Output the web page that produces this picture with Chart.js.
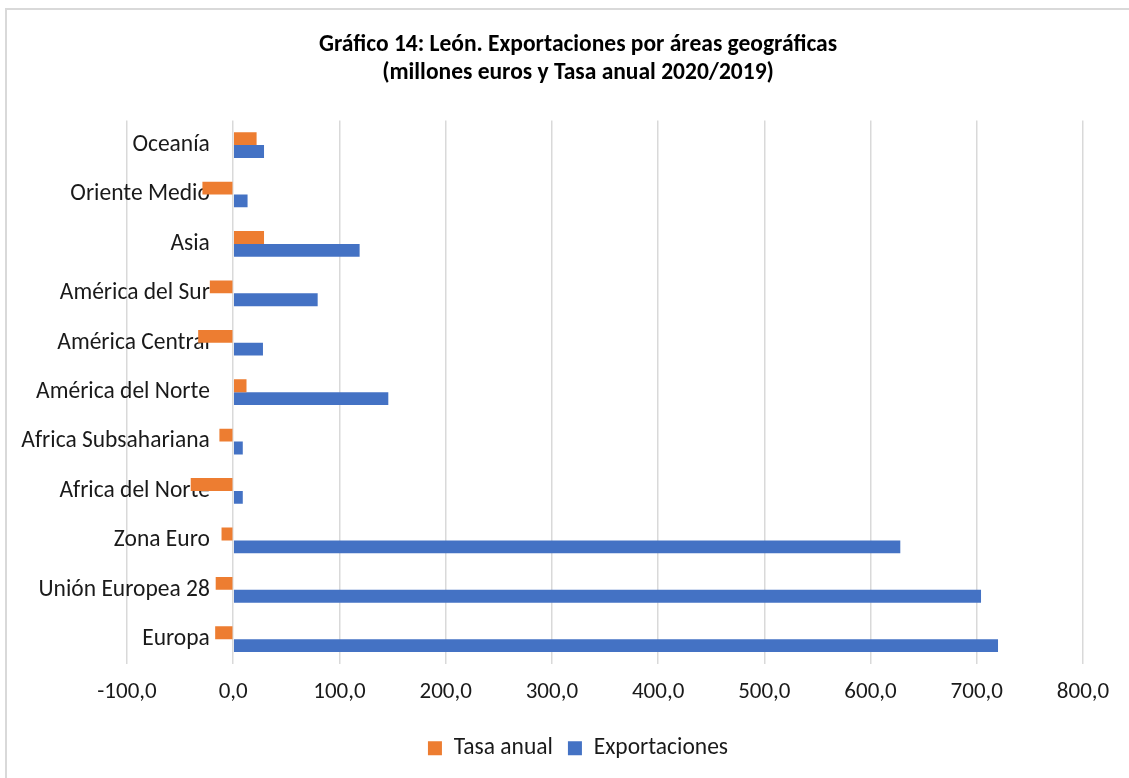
<!DOCTYPE html>
<html>
<head>
<meta charset="utf-8">
<script src="https://cdn.jsdelivr.net/npm/chart.js@4"></script>
<style>
  html, body { margin: 0; padding: 0; background: #fff; }
  #frame { position: absolute; left: 5px; top: 8px; width: 1200px; height: 900px;
           border-left: 2px solid #d9d9d9; border-top: 2px solid #d9d9d9; }
  #wrap { position: absolute; left: 0; top: 0; width: 1129px; height: 778px; }
</style>
</head>
<body>
<div id="frame"></div>
<div id="wrap"><canvas id="chart"></canvas></div>
<script>
// Categories, top to bottom as drawn
const areas = ['Oceanía', 'Oriente Medio', 'Asia', 'América del Sur', 'América Central',
  'América del Norte', 'Africa Subsahariana', 'Africa del Norte', 'Zona Euro',
  'Unión Europea 28', 'Europa'];

// Tasa anual 2020/2019 (%)
const tasaAnual = [22, -29, 29, -22, -33, 12.5, -13, -40, -11, -16.5, -17];

// Exportaciones (millones euros)
const exportaciones = [29, 13.5, 119, 79.5, 28, 146, 9, 9, 628, 704, 720];

const xMin = -100, xMax = 800, xStep = 100;

const FONT = "Carlito, Calibri, Lato, sans-serif";
const ORANGE = '#ED7D31';
const BLUE = '#4472C4';

const fmt = (v) => v.toFixed(1).replace('.', ',');

new Chart(document.getElementById('chart'), {
  type: 'bar',
  data: {
    labels: areas,
    datasets: [
      { label: 'Tasa anual', data: tasaAnual, backgroundColor: ORANGE,
        categoryPercentage: 0.52, barPercentage: 1 },
      { label: 'Exportaciones', data: exportaciones, backgroundColor: BLUE,
        categoryPercentage: 0.52, barPercentage: 1 },
    ],
  },
  options: {
    indexAxis: 'y',
    responsive: true, maintainAspectRatio: false,
    animation: false,
    layout: { padding: { left: 73, right: 46, top: 0, bottom: 8 } },
    plugins: {
      title: {
        display: true,
        text: ['Gráfico 14: León. Exportaciones por áreas geográficas',
               '(millones euros y Tasa anual 2020/2019)'],
        color: '#000',
        font: { family: FONT, size: 23.5, weight: 'bold', lineHeight: 1.2 },
        padding: { top: 31, bottom: 33 },
      },
      legend: {
        position: 'bottom',
        labels: {
          color: '#1a1a1a',
          font: { family: FONT, size: 23.5 },
          boxWidth: 14, boxHeight: 14,
          padding: 15,
        },
      },
      tooltip: { enabled: false },
    },
    scales: {
      x: {
        min: xMin, max: xMax,
        ticks: { stepSize: xStep, callback: (v) => fmt(v), color: '#1a1a1a',
                 font: { family: FONT, size: 23 }, padding: 15 },
        grid: { color: '#d9d9d9', lineWidth: 1.5, drawTicks: false },
        border: { display: false },
      },
      y: {
        // labels sit just left of the zero line, inside the plot
        position: { x: -22 },
        ticks: { color: '#1a1a1a', font: { family: FONT, size: 23.5 } },
        grid: { display: false },
        border: { display: false },
      },
      // empty strip on the left so title and legend centre like the original
      gutter: {
        type: 'linear', axis: 'y', position: 'left',
        ticks: { display: false }, grid: { display: false }, border: { display: false },
        afterFit: (s) => { s.width = 54; },
      },
    },
  },
});
</script>
</body>
</html>
